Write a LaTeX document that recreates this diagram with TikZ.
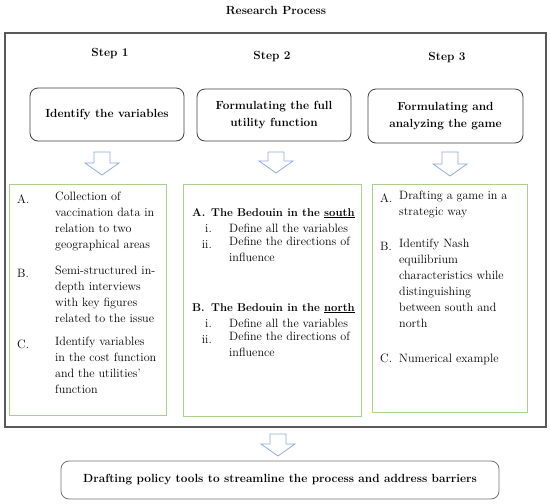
\documentclass[tikz,border=0pt]{standalone}
\usepackage{tikz}
\usetikzlibrary{positioning}
\definecolor{boxgreen}{RGB}{169,209,142}
\definecolor{arrowblue}{RGB}{143,170,220}
\definecolor{framegray}{RGB}{89,89,89}

\begin{document}
\begin{tikzpicture}[x=1pt,y=-1pt,
	head/.style={font=\fontsize{11.8}{16}\selectfont\bfseries},
	task/.style={draw=black!75,rounded corners=8pt,line width=0.8pt,align=center,
		font=\fontsize{11.8}{17}\selectfont\bfseries},
	listbox/.style={draw=boxgreen,line width=0.9pt},
	txt/.style={anchor=north west,inner sep=0pt,align=left,yshift=11.2pt,
		font=\fontsize{12.1}{16}\selectfont,execute at begin node=\strut},
	num/.style={txt,anchor=north east},
	part/.style={txt,font=\fontsize{11.3}{16}\selectfont\bfseries},
	hollow/.style={draw=arrowblue,line width=0.8pt,line join=miter}]
\useasboundingbox (0,0) rectangle (550,504);
\node [head] (title) at (276,10) {Research Process};
\node [draw=framegray, line width=1.3pt, minimum width=541pt, minimum height=394pt] (frame) at (275.5,230) {};

% steps
\node [head] (s1) at (110,54) {Step 1};
\node [head] (s2) at (272,57) {Step 2};
\node [head] (s3) at (447,58) {Step 3};
\node [task, minimum width=154pt, minimum height=53pt] (t1) at (107,114.5) {Identify the variables};
\node [task, minimum width=154pt, minimum height=52pt] (t2) at (274,115) {Formulating the full\\utility function};
\node [task, minimum width=155pt, minimum height=54pt] (t3) at (445.5,116) {Formulating and\\analyzing the game};

\foreach \cx/\top/\tip in {102/152/175, 276/152/173, 450/152/176, 278/434/456}
	\draw [hollow] (\cx-8,\top) -- (\cx+8,\top) -- (\cx+8,\tip-12) -- (\cx+17,\tip-12)
		-- (\cx,\tip) -- (\cx-17,\tip-12) -- (\cx-8,\tip-12) -- cycle;

% lists
\node [listbox, minimum width=157pt, minimum height=231pt] (g1) at (87.5,299.5) {};
\node [listbox, minimum width=178pt, minimum height=232pt] (g2) at (272,300) {};
\node [listbox, minimum width=155pt, minimum height=228pt] (g3) at (449.5,298) {};

\node [txt] (g1a) at (17,203) {A.};
\node [txt] (g1at) at (55,203) {Collection of\\vaccination data in\\relation to two\\geographical areas};
\node [txt] (g1b) at (17,277) {B.};
\node [txt] (g1bt) at (55,277) {Semi-structured in-\\depth interviews\\with key figures\\related to the issue};
\node [txt] (g1c) at (17,348) {C.};
\node [txt] (g1ct) at (55,348) {Identify variables\\in the cost function\\and the utilities'\\function};

\node [part] (g2a) at (192,216) {A.};
\node [part] (g2at) at (211,216) {The Bedouin in the \underline{south}};
\node [num] (g2a1) at (212,232) {i.};
\node [txt] (g2a1t) at (229,232) {Define all the variables};
\node [num] (g2a2) at (212,248) {ii.};
\node [txt] (g2a2t) at (229,248) {Define the directions of\\influence};
\node [part] (g2b) at (192,311) {B.};
\node [part] (g2bt) at (211,311) {The Bedouin in the \underline{north}};
\node [num] (g2b1) at (212,327) {i.};
\node [txt] (g2b1t) at (229,327) {Define all the variables};
\node [num] (g2b2) at (212,343) {ii.};
\node [txt] (g2b2t) at (229,343) {Define the directions of\\influence};

\node [txt] (g3a) at (380,202) {A.};
\node [txt] (g3at) at (399,202) {Drafting a game in a\\strategic way};
\node [txt] (g3b) at (380,250) {B.};
\node [txt] (g3bt) at (399,250) {Identify Nash\\equilibrium\\characteristics while\\distinguishing\\between south and\\north};
\node [txt] (g3c) at (380,362) {C.};
\node [txt] (g3ct) at (399,362) {Numerical example};

% result
\node [task, draw=black!55, minimum width=438pt, minimum height=38pt] (res) at (280,480) {Drafting policy tools to streamline the process and address barriers};
\end{tikzpicture}
\end{document}
